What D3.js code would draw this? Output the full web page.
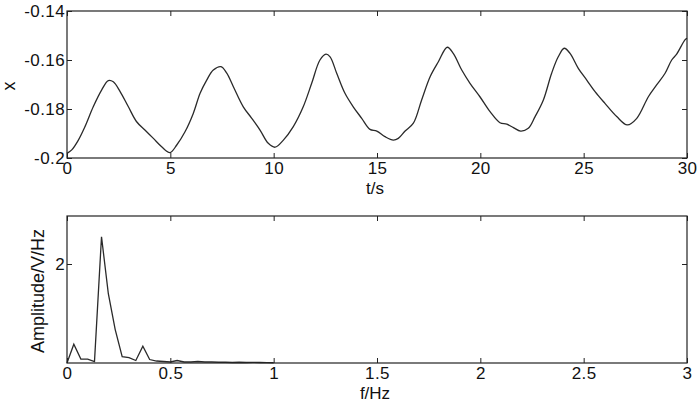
<!DOCTYPE html>
<html>
<head>
<meta charset="utf-8">
<script src="https://cdn.jsdelivr.net/npm/d3@7"></script>
<style>
  body { margin: 0; background: #fff; }
  text { font-family: "Liberation Sans", Arial, Helvetica, sans-serif; fill: #111; }
</style>
</head>
<body>
<div id="chart"></div>
<script>
// time signal
var tValues = [0, 0.23, 0.55, 0.87, 1.27, 1.68, 2.0, 2.24, 2.57, 2.97, 3.37, 3.77, 4.18, 4.58, 4.98,
  5.31, 5.71, 6.11, 6.44, 6.76, 7.08, 7.45, 7.73, 8.05, 8.53, 8.94, 9.34, 9.74, 10.07,
  10.47, 10.95, 11.43, 11.84, 12.24, 12.53, 12.73, 13.05, 13.45, 13.85, 14.26, 14.66, 14.99,
  15.39, 15.79, 16.03, 16.36, 16.76, 17.16, 17.57, 17.97, 18.4, 18.69, 19.1, 19.5, 19.98,
  20.47, 20.95, 21.28, 21.6, 21.95, 22.32, 22.65, 23.05, 23.45, 23.77, 24.06, 24.34, 24.74,
  25.15, 25.55, 26.03, 26.6, 27.11, 27.57, 28.13, 28.53, 28.94, 29.26, 29.5, 29.9, 30];
var xValues = [-0.1981, -0.1967, -0.1927, -0.1872, -0.1791, -0.1722, -0.1684, -0.1689, -0.1729, -0.1791, -0.1852, -0.1886, -0.1920, -0.1954, -0.1978,
  -0.1947, -0.1893, -0.1818, -0.1736, -0.1682, -0.1641, -0.1627, -0.1654, -0.1709, -0.1791, -0.1838, -0.1886, -0.1940, -0.1956,
  -0.1927, -0.1872, -0.1791, -0.1695, -0.1600, -0.1576, -0.1587, -0.1654, -0.1736, -0.1791, -0.1838, -0.1883, -0.1890,
  -0.1913, -0.1927, -0.1920, -0.1890, -0.1858, -0.1763, -0.1668, -0.1607, -0.1548, -0.1573, -0.1641, -0.1695, -0.1750,
  -0.1811, -0.1856, -0.1862, -0.1876, -0.1890, -0.1879, -0.1831, -0.1763, -0.1654, -0.1587, -0.1552, -0.1573, -0.1634,
  -0.1682, -0.1729, -0.1777, -0.1831, -0.1865, -0.1838, -0.1750, -0.1702, -0.1654, -0.1600, -0.1576, -0.1518, -0.1511];

// amplitude spectrum
var freqValues = [0, 0.033, 0.067, 0.1, 0.133, 0.167, 0.2, 0.233, 0.267, 0.3, 0.333, 0.367, 0.4, 0.433,
  0.467, 0.5, 0.533, 0.567, 0.6, 0.633, 0.667, 0.7, 0.733, 0.767, 0.8, 0.833, 0.867, 0.9, 0.933, 0.967, 1.0];
var ampValues = [0.0, 0.38, 0.08, 0.08, 0.03, 2.55, 1.40, 0.68, 0.13, 0.11, 0.05, 0.34, 0.07, 0.04,
  0.03, 0.02, 0.05, 0.02, 0.02, 0.03, 0.02, 0.02, 0.015, 0.015, 0.01, 0.015, 0.01, 0.012, 0.01, 0.008, 0.005];

var topXTicks = [0, 5, 10, 15, 20, 25, 30];
var topYTicks = [-0.2, -0.18, -0.16, -0.14];
var topYLabels = ["-0.2", "-0.18", "-0.16", "-0.14"];
var botXTicks = [0, 0.5, 1, 1.5, 2, 2.5, 3];
var botYTicks = [2];

var width = 697, height = 403;
var left = 67, right = 687;

var svg = d3.select("#chart").append("svg")
    .attr("width", width)
    .attr("height", height);

function panel(cfg) {
  var x = d3.scaleLinear().domain(cfg.xDomain).range([left, right]);
  var y = d3.scaleLinear().domain(cfg.yDomain).range([cfg.bottom, cfg.top]);
  var g = svg.append("g");

  var line = d3.line()
      .x(function(d) { return x(d[0]); })
      .y(function(d) { return y(d[1]); })
      .curve(cfg.curve);

  g.append("path")
    .datum(d3.zip(cfg.xs, cfg.ys))
    .attr("d", line)
    .attr("fill", "none")
    .attr("stroke", "#2a2a2a")
    .attr("stroke-width", 1.3);

  // inward ticks on all four sides, like matlab box on
  var tk = 5;
  g.append("g").attr("transform", "translate(0," + cfg.bottom + ")")
    .call(d3.axisBottom(x).tickValues(cfg.xTicks).tickSizeInner(-tk).tickSizeOuter(0).tickPadding(4).tickFormat(d3.format("")))
    .call(function(s) { s.select(".domain").remove(); });
  g.append("g").attr("transform", "translate(0," + cfg.top + ")")
    .call(d3.axisTop(x).tickValues(cfg.xTicks).tickSizeInner(-tk).tickSizeOuter(0).tickFormat(""))
    .call(function(s) { s.select(".domain").remove(); });
  g.append("g").attr("transform", "translate(" + left + ",0)")
    .call(d3.axisLeft(y).tickValues(cfg.yTicks).tickSizeInner(-tk).tickSizeOuter(0).tickPadding(2).tickFormat(cfg.yFormat))
    .call(function(s) { s.select(".domain").remove(); });
  g.append("g").attr("transform", "translate(" + right + ",0)")
    .call(d3.axisRight(y).tickValues(cfg.yTicks).tickSizeInner(-tk).tickSizeOuter(0).tickFormat(""))
    .call(function(s) { s.select(".domain").remove(); });

  g.selectAll(".tick line").attr("stroke", "#222");
  g.selectAll(".tick text").attr("font-size", 17).attr("fill", "#111")
    .attr("letter-spacing", 0.4)
    .attr("font-family", "Liberation Sans, Arial, sans-serif");

  g.append("rect")
    .attr("x", left).attr("y", cfg.top)
    .attr("width", right - left).attr("height", cfg.bottom - cfg.top)
    .attr("fill", "none").attr("stroke", "#222").attr("stroke-width", 1.2);

  g.append("text")
    .attr("x", (left + right) / 2 - 2).attr("y", cfg.bottom + 36)
    .attr("text-anchor", "middle").attr("font-size", 17)
    .text(cfg.xLabel);

  g.append("text")
    .attr("transform", "translate(" + cfg.yLabelX + "," + cfg.yLabelY + ") rotate(-90)")
    .attr("text-anchor", "middle").attr("font-size", 18)
    .text(cfg.yLabel);
}

panel({
  xs: tValues, ys: xValues,
  xDomain: [0, 30], yDomain: [-0.2, -0.14],
  top: 11, bottom: 158,
  xTicks: topXTicks, yTicks: topYTicks,
  yFormat: function(d, i) { return topYLabels[i]; },
  xLabel: "t/s", yLabel: "x", yLabelX: 15, yLabelY: 86,
  curve: d3.curveCatmullRom
});

panel({
  xs: freqValues, ys: ampValues,
  xDomain: [0, 3], yDomain: [0, 2.97],
  top: 216, bottom: 363,
  xTicks: botXTicks, yTicks: botYTicks,
  yFormat: d3.format(""),
  xLabel: "f/Hz", yLabel: "Amplitude/V/Hz", yLabelX: 44, yLabelY: 291,
  curve: d3.curveLinear
});
</script>
</body>
</html>
